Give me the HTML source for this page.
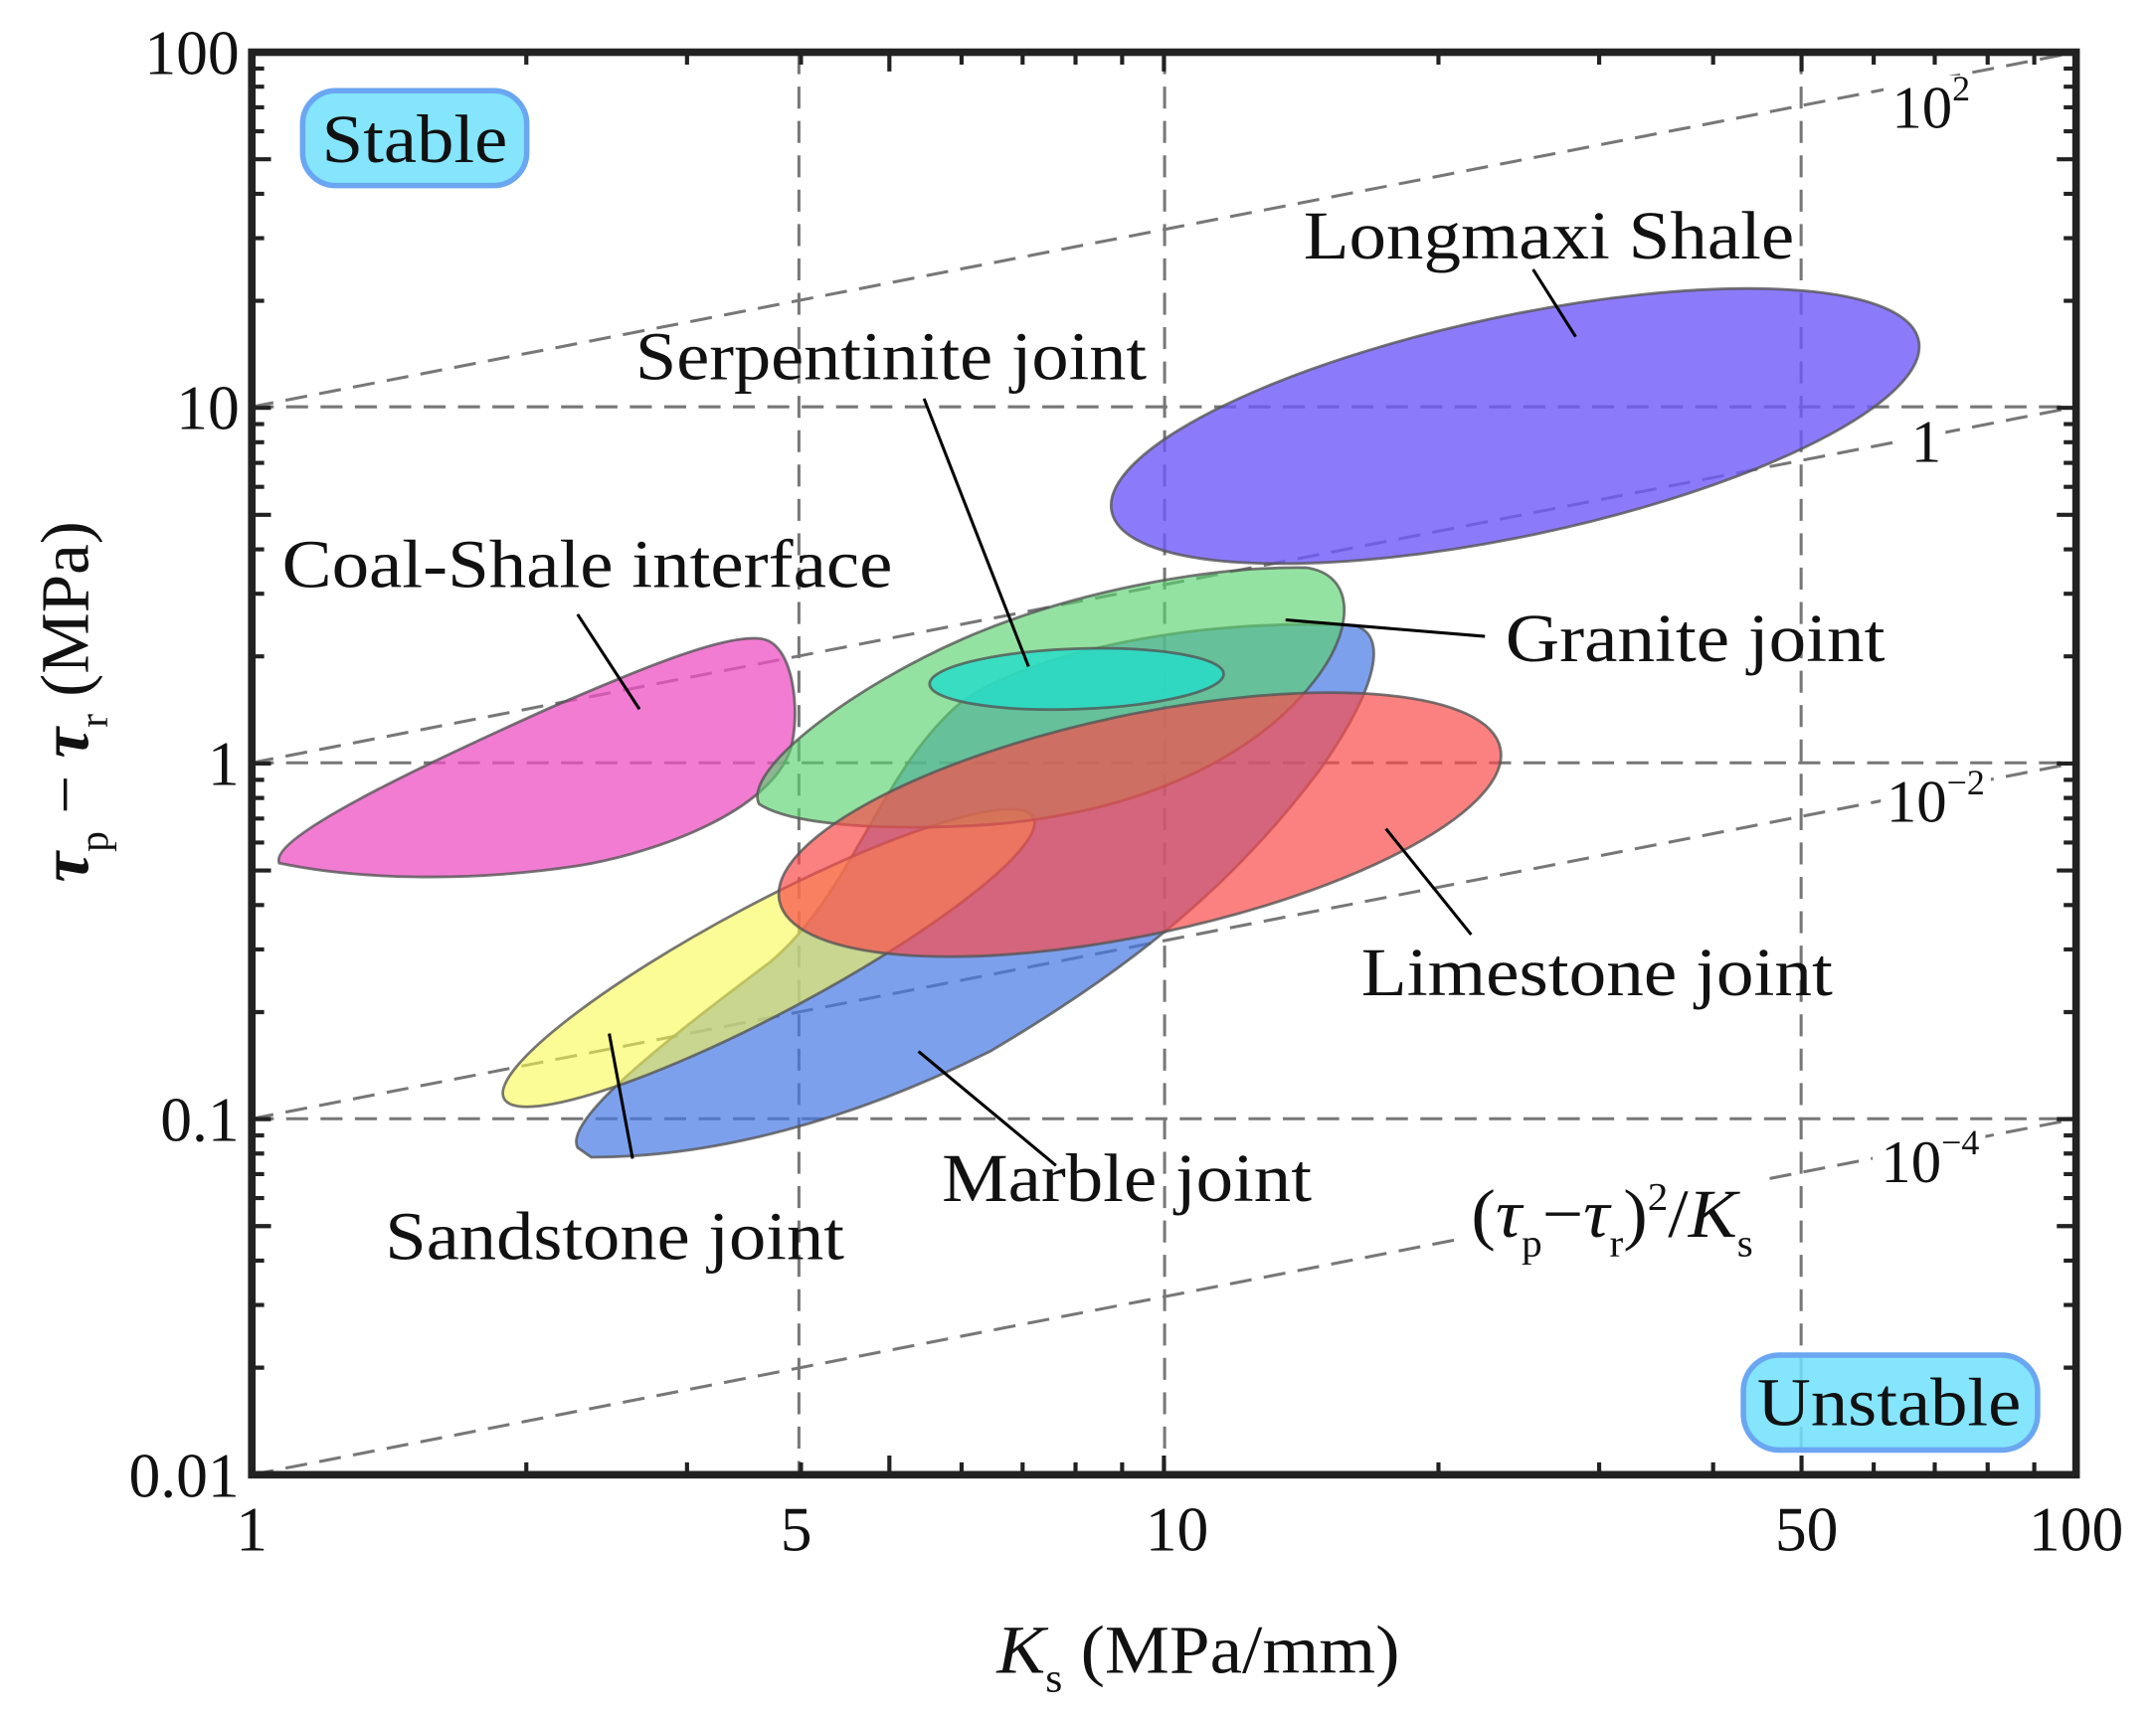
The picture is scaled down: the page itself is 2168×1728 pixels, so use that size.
<!DOCTYPE html>
<html><head><meta charset="utf-8"><style>
html,body{margin:0;padding:0;background:#fff;}
svg{display:block;}
text{font-family:"Liberation Serif",serif;fill:#111;}
</style></head><body>
<svg width="2168" height="1728" viewBox="0 0 1568 1250" xmlns="http://www.w3.org/2000/svg">
<rect width="1568" height="1250" fill="#fff"/>
<g stroke="#777" stroke-width="2.2" stroke-dasharray="16,9" fill="none">
<line x1="581" y1="38" x2="581" y2="1073"/>
<line x1="847" y1="38" x2="847" y2="1073"/>
<line x1="1310" y1="38" x2="1310" y2="1073"/>
<line x1="183" y1="296" x2="1510" y2="296"/>
<line x1="183" y1="555" x2="1510" y2="555"/>
<line x1="183" y1="814" x2="1510" y2="814"/>
<line x1="183" y1="296" x2="1510" y2="38"/>
<line x1="183" y1="555" x2="1510" y2="296"/>
<line x1="183" y1="814" x2="1510" y2="555"/>
<line x1="183" y1="1073" x2="1510" y2="814"/>
</g>
<g stroke="#555" stroke-width="2" stroke-opacity="0.8">
<ellipse cx="1102" cy="310" rx="300" ry="80" transform="rotate(-12 1102 310)" fill="rgba(110,90,250,0.8)"/>
<path d="M203,628 C195,610 300,560 400,515 C470,485 530,460 555,465 C578,470 582,520 575,545 C560,590 480,620 420,630 C340,642 260,640 203,628 Z" fill="rgba(236,80,195,0.75)"/>
<path d="M420,835 C410,815 480,760 560,700 C620,650 640,560 700,510 C760,470 880,450 985,455 C1010,462 1002,500 960,560 C900,640 830,700 720,765 C620,815 520,842 430,842 Z" fill="rgba(70,120,230,0.7)"/>
<ellipse cx="559" cy="697" rx="218" ry="40" transform="rotate(-28 559 697)" fill="rgba(250,250,80,0.6)"/>
<path d="M552,585 C540,560 620,500 700,465 C780,430 880,412 950,413 C985,418 985,455 960,490 C920,545 840,590 720,600 C640,605 575,600 552,585 Z" fill="rgba(90,210,110,0.65)"/>
<ellipse cx="829" cy="600" rx="268" ry="80" transform="rotate(-12 829 600)" fill="rgba(250,75,75,0.7)"/>
<ellipse cx="783" cy="494" rx="107" ry="22" transform="rotate(-2 783 494)" fill="rgba(40,220,200,0.85)"/>
</g>
<g stroke="#000" stroke-width="2.2">
<line x1="1115" y1="196" x2="1146" y2="245"/>
<line x1="672" y1="290" x2="748" y2="485"/>
<line x1="420" y1="447" x2="465" y2="516"/>
<line x1="1080" y1="463" x2="935" y2="451"/>
<line x1="1070" y1="680" x2="1008" y2="603"/>
<line x1="768" y1="848" x2="668" y2="765"/>
<line x1="460" y1="843" x2="443" y2="752"/>
</g>
<g font-size="50">
<text x="948" y="188" textLength="357" lengthAdjust="spacingAndGlyphs">Longmaxi Shale</text>
<text x="462" y="276" textLength="372" lengthAdjust="spacingAndGlyphs">Serpentinite joint</text>
<text x="205" y="427" textLength="444" lengthAdjust="spacingAndGlyphs">Coal-Shale interface</text>
<text x="1095" y="481" textLength="276" lengthAdjust="spacingAndGlyphs">Granite joint</text>
<text x="990" y="724" textLength="343" lengthAdjust="spacingAndGlyphs">Limestone joint</text>
<text x="685" y="874" textLength="269" lengthAdjust="spacingAndGlyphs">Marble joint</text>
<text x="280" y="916" textLength="334" lengthAdjust="spacingAndGlyphs">Sandstone joint</text>
</g>
<g font-size="44">
<rect x="1370" y="55" width="70" height="46" fill="#fff"/>
<text x="1376" y="93">10<tspan font-size="26" dy="-20">2</tspan></text>
<rect x="1385" y="300" width="30" height="46" fill="#fff"/>
<text x="1390" y="336">1</text>
<rect x="1368" y="562" width="80" height="46" fill="#fff"/>
<text x="1372" y="598">10<tspan font-size="26" dy="-20">−2</tspan></text>
<rect x="1362" y="822" width="82" height="46" fill="#fff"/>
<text x="1368" y="860">10<tspan font-size="26" dy="-20">−4</tspan></text>
<rect x="1066" y="856" width="216" height="66" fill="#fff"/>
<text x="1070" y="900" font-size="50" textLength="205" lengthAdjust="spacingAndGlyphs">(<tspan font-style="italic">τ</tspan><tspan font-size="28" dy="14">p</tspan><tspan dy="-14">−</tspan><tspan font-style="italic">τ</tspan><tspan font-size="28" dy="14">r</tspan><tspan dy="-14">)</tspan><tspan font-size="28" dy="-20">2</tspan><tspan dy="20">/</tspan><tspan font-style="italic">K</tspan><tspan font-size="28" dy="14">s</tspan></text>
</g>
<rect x="220" y="66" width="163" height="69" rx="24" fill="rgba(110,225,252,0.85)" stroke="#6aa6f2" stroke-width="4"/>
<text x="234" y="118" font-size="50" textLength="135" lengthAdjust="spacingAndGlyphs">Stable</text>
<rect x="1268" y="986" width="214" height="69" rx="26" fill="rgba(110,225,252,0.85)" stroke="#6aa6f2" stroke-width="4"/>
<text x="1278" y="1037" font-size="50" textLength="192" lengthAdjust="spacingAndGlyphs">Unstable</text>
<rect x="183" y="38" width="1327" height="1035" fill="none" stroke="#222" stroke-width="5.5"/>
<g stroke="#222" stroke-width="3" fill="none">
<path d="M382.7,1073v-9M499.6,1073v-9M582.5,1073v-9M646.8,1073v-14M699.3,1073v-9M743.7,1073v-9M782.2,1073v-9M816.1,1073v-9M846.5,1073v-14M1046.2,1073v-9M1163.1,1073v-9M1246,1073v-9M1310.3,1073v-14M1362.8,1073v-9M1407.2,1073v-9M1445.7,1073v-9M1479.6,1073v-9"/>
<path d="M382.7,38v9M499.6,38v9M582.5,38v9M646.8,38v14M699.3,38v9M743.7,38v9M782.2,38v9M816.1,38v9M846.5,38v14M1046.2,38v9M1163.1,38v9M1246,38v9M1310.3,38v14M1362.8,38v9M1407.2,38v9M1445.7,38v9M1479.6,38v9"/>
<path d="M183,995.1h9M183,949.5h9M183,917.2h9M183,892.1h14M183,871.7h9M183,854.3h9M183,839.3h9M183,826.1h9M183,814.25h14M183,736.4h9M183,690.8h9M183,658.5h9M183,633.4h14M183,613h9M183,595.6h9M183,580.6h9M183,567.4h9M183,555.5h14M183,477.6h9M183,432h9M183,399.7h9M183,374.6h14M183,354.2h9M183,336.8h9M183,321.8h9M183,308.6h9M183,296.75h14M183,218.9h9M183,173.3h9M183,141h9M183,115.9h14M183,95.5h9M183,78.1h9M183,63.1h9M183,49.9h9"/>
<path d="M1510,995.1h-9M1510,949.5h-9M1510,917.2h-9M1510,892.1h-14M1510,871.7h-9M1510,854.3h-9M1510,839.3h-9M1510,826.1h-9M1510,814.25h-14M1510,736.4h-9M1510,690.8h-9M1510,658.5h-9M1510,633.4h-14M1510,613h-9M1510,595.6h-9M1510,580.6h-9M1510,567.4h-9M1510,555.5h-14M1510,477.6h-9M1510,432h-9M1510,399.7h-9M1510,374.6h-14M1510,354.2h-9M1510,336.8h-9M1510,321.8h-9M1510,308.6h-9M1510,296.75h-14M1510,218.9h-9M1510,173.3h-9M1510,141h-9M1510,115.9h-14M1510,95.5h-9M1510,78.1h-9M1510,63.1h-9M1510,49.9h-9"/>
</g>
<g font-size="46">
<text x="183" y="1128" text-anchor="middle">1</text>
<text x="579" y="1128" text-anchor="middle">5</text>
<text x="856" y="1128" text-anchor="middle">10</text>
<text x="1314" y="1128" text-anchor="middle">50</text>
<text x="1510" y="1128" text-anchor="middle">100</text>
<text x="174" y="54" text-anchor="end">100</text>
<text x="174" y="312" text-anchor="end">10</text>
<text x="174" y="571" text-anchor="end">1</text>
<text x="174" y="830" text-anchor="end">0.1</text>
<text x="174" y="1089" text-anchor="end">0.01</text>
</g>
<text x="725" y="1217" font-size="50" textLength="293" lengthAdjust="spacingAndGlyphs"><tspan font-style="italic">K</tspan><tspan font-size="30" dy="14">s</tspan><tspan dy="-14"> (MPa/mm)</tspan></text>
<text transform="translate(64,642) rotate(-90)" font-size="50"><tspan font-weight="bold" font-style="italic">τ</tspan><tspan font-size="30" dy="14">p</tspan><tspan dy="-14"> − </tspan><tspan font-weight="bold" font-style="italic">τ</tspan><tspan font-size="30" dy="14">r</tspan><tspan dy="-14"> (MPa)</tspan></text>
</svg>
</body></html>
